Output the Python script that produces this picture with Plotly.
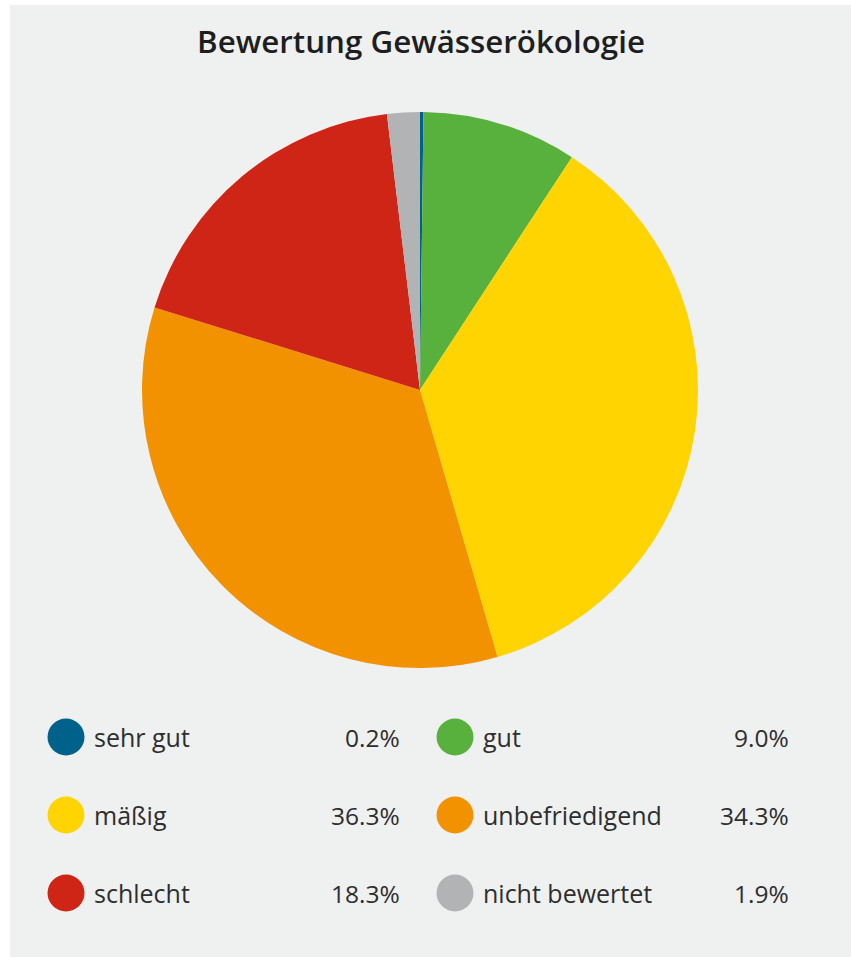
import plotly.graph_objects as go

categories = ["sehr gut", "gut", "mäßig", "unbefriedigend", "schlecht", "nicht bewertet"]
values = [0.2, 9.0, 36.3, 34.3, 18.3, 1.9]
value_labels = ["0.2%", "9.0%", "36.3%", "34.3%", "18.3%", "1.9%"]
colors = ["#00628b", "#58b13c", "#ffd400", "#f39200", "#cf2516", "#b2b3b5"]
title = "Bewertung Gewässerökologie"

W, H = 851, 957
BG = "#eff0f0"
TXT = "#2e2e2e"
FONT = "Open Sans"

fig = go.Figure()

# Pie
cx, cy, r = 420, 390, 278
fig.add_trace(go.Pie(
    labels=categories, values=values, sort=False, direction="clockwise", rotation=0,
    marker=dict(colors=colors, line=dict(width=0)),
    textinfo="none", hoverinfo="label+percent", showlegend=False,
    domain=dict(x=[(cx - r) / W, (cx + r) / W], y=[1 - (cy + r) / H, 1 - (cy - r) / H]),
))

# Custom legend: 2 columns x 3 rows
col_x = [66, 455]
row_y = [737, 815, 893]
lx, ly = [], []
for i, c in enumerate(categories):
    col, row = i % 2, i // 2
    lx.append(col_x[col])
    ly.append(row_y[row])

fig.add_trace(go.Scatter(
    x=lx, y=ly, mode="markers",
    marker=dict(size=37, color=colors, line=dict(width=0)),
    hoverinfo="skip", showlegend=False,
))

for i, (c, v) in enumerate(zip(categories, value_labels)):
    fig.add_annotation(x=lx[i] + 26, y=ly[i], text=c, showarrow=False,
                       xanchor="left", yanchor="middle", xref="x", yref="y",
                       font=dict(family=FONT, size=25, color=TXT))
    fig.add_annotation(x=lx[i] + 336, y=ly[i], text=v, showarrow=False,
                       xanchor="right", yanchor="middle", xref="x", yref="y",
                       font=dict(family=FONT, size=24.5, color=TXT))

fig.add_shape(type="rect", xref="paper", yref="paper", x0=10 / W, x1=1.0, y0=0, y1=1 - 5 / H,
              fillcolor=BG, line=dict(width=0), layer="below")

fig.update_layout(
    width=W, height=H,
    margin=dict(l=0, r=0, t=0, b=0),
    paper_bgcolor="white", plot_bgcolor="rgba(0,0,0,0)",
    title=dict(text=title, x=421 / W, xanchor="center", y=1 - 42 / H, yanchor="middle",
               font=dict(family=FONT, size=31.3, weight=600, color="#1e1e1e")),
    xaxis=dict(range=[0, W], visible=False, domain=[0, 1], fixedrange=True),
    yaxis=dict(range=[H, 0], visible=False, domain=[0, 1], fixedrange=True),
)

fig.write_html("out.html", config={"displayModeBar": False},
               post_script="document.body.style.margin='0';document.body.style.overflow='hidden';")
